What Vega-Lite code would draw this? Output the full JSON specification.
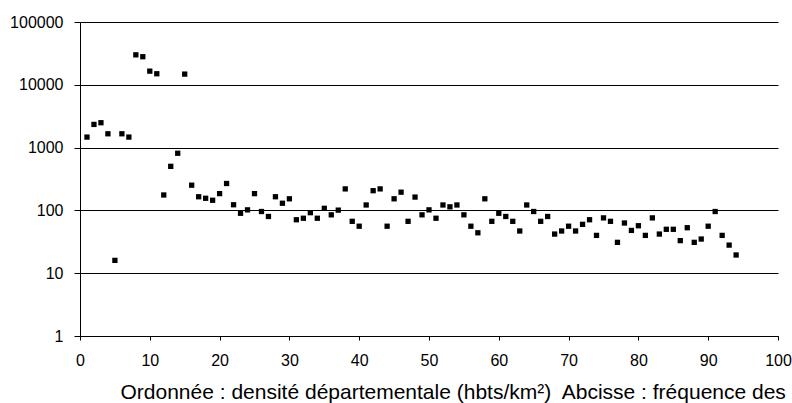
{
  "$schema": "https://vega.github.io/schema/vega-lite/v6.json",
  "width": 698,
  "height": 314,
  "autosize": {"type": "none"},
  "padding": {"left": 80, "top": 22, "right": 14, "bottom": 67},
  "background": "white",
  "config": {"view": {"stroke": null}, "font": "Liberation Sans"},
  "data": {
    "values": [
      {"x": 1, "y": 1470}, {"x": 2, "y": 2340}, {"x": 3, "y": 2490}, {"x": 4, "y": 1660},
      {"x": 5, "y": 16}, {"x": 6, "y": 1660}, {"x": 7, "y": 1470}, {"x": 8, "y": 30000},
      {"x": 9, "y": 28000}, {"x": 10, "y": 16500}, {"x": 11, "y": 15000}, {"x": 12, "y": 176},
      {"x": 13, "y": 503}, {"x": 14, "y": 813}, {"x": 15, "y": 14800}, {"x": 16, "y": 252},
      {"x": 17, "y": 165}, {"x": 18, "y": 156}, {"x": 19, "y": 145}, {"x": 20, "y": 185},
      {"x": 21, "y": 268}, {"x": 22, "y": 123}, {"x": 23, "y": 90}, {"x": 24, "y": 102},
      {"x": 25, "y": 185}, {"x": 26, "y": 96}, {"x": 27, "y": 80}, {"x": 28, "y": 165},
      {"x": 29, "y": 130}, {"x": 30, "y": 153}, {"x": 31, "y": 71}, {"x": 32, "y": 75},
      {"x": 33, "y": 92}, {"x": 34, "y": 75}, {"x": 35, "y": 108}, {"x": 36, "y": 85},
      {"x": 37, "y": 101}, {"x": 38, "y": 220}, {"x": 39, "y": 67}, {"x": 40, "y": 56},
      {"x": 41, "y": 122}, {"x": 42, "y": 206}, {"x": 43, "y": 220}, {"x": 44, "y": 56},
      {"x": 45, "y": 153}, {"x": 46, "y": 195}, {"x": 47, "y": 67}, {"x": 48, "y": 163},
      {"x": 49, "y": 85}, {"x": 50, "y": 102}, {"x": 51, "y": 75}, {"x": 52, "y": 122},
      {"x": 53, "y": 114}, {"x": 54, "y": 122}, {"x": 55, "y": 85}, {"x": 56, "y": 56},
      {"x": 57, "y": 44}, {"x": 58, "y": 153}, {"x": 59, "y": 67}, {"x": 60, "y": 90},
      {"x": 61, "y": 80}, {"x": 62, "y": 67}, {"x": 63, "y": 47}, {"x": 64, "y": 122},
      {"x": 65, "y": 96}, {"x": 66, "y": 67}, {"x": 67, "y": 80}, {"x": 68, "y": 42},
      {"x": 69, "y": 47}, {"x": 70, "y": 56}, {"x": 71, "y": 47}, {"x": 72, "y": 60},
      {"x": 73, "y": 71}, {"x": 74, "y": 40}, {"x": 75, "y": 76}, {"x": 76, "y": 67},
      {"x": 77, "y": 31}, {"x": 78, "y": 63}, {"x": 79, "y": 48}, {"x": 80, "y": 57},
      {"x": 81, "y": 40}, {"x": 82, "y": 76}, {"x": 83, "y": 42}, {"x": 84, "y": 50},
      {"x": 85, "y": 50}, {"x": 86, "y": 33}, {"x": 87, "y": 53}, {"x": 88, "y": 31},
      {"x": 89, "y": 35}, {"x": 90, "y": 56}, {"x": 91, "y": 96}, {"x": 92, "y": 40},
      {"x": 93, "y": 28}, {"x": 94, "y": 19.5}
    ]
  },
  "mark": {"type": "point", "shape": "square", "filled": true, "color": "black", "size": 28, "opacity": 1},
  "encoding": {
    "x": {
      "field": "x",
      "type": "quantitative",
      "scale": {"domain": [0, 100], "nice": false, "zero": false},
      "axis": {
        "values": [0, 10, 20, 30, 40, 50, 60, 70, 80, 90, 100],
        "grid": false,
        "domainColor": "black",
        "tickColor": "black",
        "tickSize": 4,
        "labelFont": "Liberation Sans",
        "labelFontSize": 16,
        "labelColor": "black",
        "labelPadding": 12,
        "labelFlush": false,
        "labelOverlap": false,
        "title": "Ordonnée : densité départementale (hbts/km²)\u00a0 Abcisse : fréquence des",
        "titleFont": "Liberation Sans",
        "titleFontSize": 21,
        "titleFontWeight": "normal",
        "titleColor": "black",
        "titleAnchor": "start",
        "titleAlign": "left",
        "titleBaseline": "alphabetic",
        "titleX": 40,
        "titleY": 62
      }
    },
    "y": {
      "field": "y",
      "type": "quantitative",
      "scale": {"type": "log", "domain": [1, 100000], "nice": false},
      "axis": {
        "values": [1, 10, 100, 1000, 10000, 100000],
        "format": "d",
        "grid": true,
        "gridColor": "black",
        "gridOpacity": 1,
        "gridWidth": 1,
        "domainColor": "black",
        "tickColor": "black",
        "tickSize": 6,
        "labelFont": "Liberation Sans",
        "labelFontSize": 16,
        "labelColor": "black",
        "labelPadding": 11,
        "labelOverlap": false,
        "title": null
      }
    }
  }
}
